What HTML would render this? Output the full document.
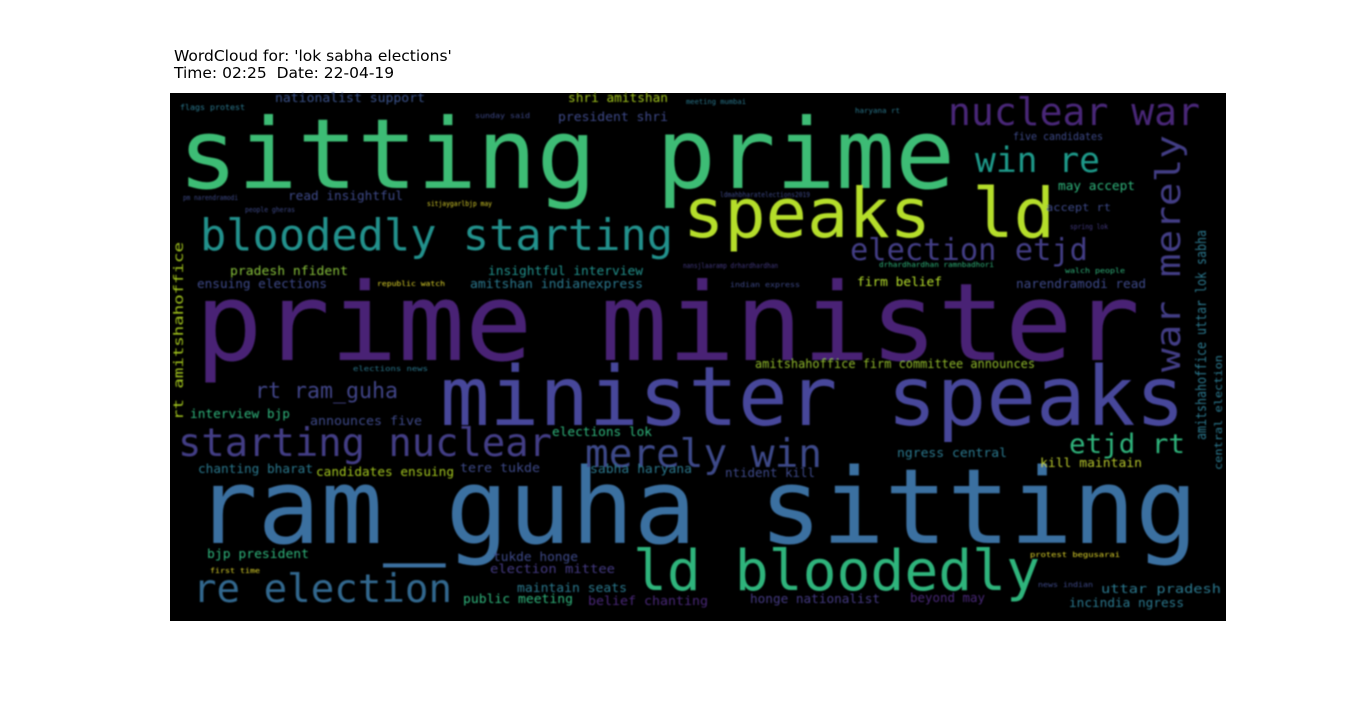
<!DOCTYPE html>
<html><head><meta charset="utf-8"><style>
html,body{margin:0;padding:0;background:#fff;width:1362px;height:707px;overflow:hidden}
svg{display:block}
.w{font-family:"DejaVu Sans Mono","Liberation Mono",monospace}
</style></head><body>
<svg id="c" width="1362" height="707">
<defs><filter id="bl"><feGaussianBlur stdDeviation="0.7"/></filter></defs>
<text x="174" y="61" font-family="DejaVu Sans, Liberation Sans, sans-serif" font-size="15.5" fill="#000">WordCloud for: 'lok sabha elections'</text>
<text x="174" y="78" font-family="DejaVu Sans, Liberation Sans, sans-serif" font-size="15.5" fill="#000" xml:space="preserve">Time: 02:25  Date: 22-04-19</text>
<rect x="170" y="93" width="1056" height="528" fill="#000"/>
<g id="words" filter="url(#bl)"></g>
</svg>
<script>
const words=["sitting prime","prime minister","ram_guha sitting","minister speaks","speaks ld","bloodedly starting","ld bloodedly","starting nuclear","merely win","re election","nuclear war","win re","election etjd","rt ram_guha","etjd rt","war merely","rt amitshahoffice","amitshahoffice uttar lok sabha","central election",
"nationalist support","flags protest","shri amitshan","president shri","sunday said","meeting mumbai","haryana rt","five candidates","may accept","accept rt","spring lok","pm narendramodi","read insightful","sitjaygarlbjp may","people gheras","ldmahbharatelections2019","pradesh nfident","insightful interview","ensuing elections","republic watch","amitshan indianexpress","nansjlaaramp drhardhardhan","drhardhardhan ramnbadhori","walch people","indian express","firm belief","narendramodi read","amitshahoffice firm committee announces","interview bjp","announces five","elections lok","chanting bharat","candidates ensuing","tere tukde","sabha haryana","ngress central","ntident kill","kill maintain","bjp president","tukde honge","election mittee","first time","maintain seats","public meeting","belief chanting","honge nationalist","beyond may","uttar pradesh","incindia ngress","protest begusarai","news indian","elections news"];
const xs=[178,195,195,440,683,200,633,178,585,193,948,975,850,255,1069,1180,183,1206,1222,
275,180,568,558,475,686,855,1013,1058,1046,1070,183,288,427,245,720,230,488,197,377,470,683,879,1065,730,857,1016,755,190,310,552,198,316,460,590,897,725,1040,207,493,490,210,517,463,588,750,910,1101,1069,1030,1038,353];
const ys=[188,360,543,425,237,250,590,456,467,602,125,172,260,398,453,372,420,440,470,
102,110,102,121,118,104,113,140,190,211,229,200,200,206,212,197,275,275,288,286,288,268,267,273,287,286,288,368,418,425,436,473,476,472,473,457,477,467,558,561,573,573,592,603,605,603,602,593,607,557,587,371];
const ws=[777,945,1003,745,372,473,407,374,237,259,252,125,238,143,116,237,178,210,115,
150,65,100,110,55,60,45,90,77,65,38,55,115,65,50,90,118,155,130,68,173,95,115,60,70,85,130,280,100,112,100,115,138,80,102,110,90,102,102,85,125,50,110,110,120,130,75,120,115,90,55,75];
const fs=[97,108,104,82,69,44,56,39,39,39,38,35,30,22,27,34,13,14,11,
12,8,12,12,7,7,7,11,12,11,7,7,12,7,7,7,12,12,12,7,12,7,7,7,7,12,12,12,12,12,12,12,12,12,12,12,12,12,12,12,12,7,12,12,12,12,12,12,12,7,7,7];
const cols=["#3dbc74","#482475","#3b6fa0","#46479a","#b5de2b","#21918c","#2fb47c","#433e85","#3e4a89","#31688e","#482878","#1f9a8a","#433e85","#414487","#2fb47c","#433e85","#a2c51e","#2a788e","#2a788e",
"#3b528b","#2a788e","#a2c51e","#3e4a89","#3e4a89","#2a788e","#2a788e","#3e4a89","#2fb47c","#3e4a89","#443a83","#3e4a89","#3e4a89","#d8cf2a","#3e4a89","#3e4a89","#86c03a","#21918c","#3e4a89","#e0d62b","#2a788e","#443a83","#2fb47c","#2fb47c","#3e4a89","#b5de2b","#3e4a89","#8fb82a","#2fb47c","#3e4a89","#2fb47c","#2a788e","#a2c51e","#3e4a89","#2a788e","#2a788e","#3e4a89","#b5c52b","#2fb47c","#3e4a89","#443a83","#e0d62b","#2a788e","#2fb47c","#482878","#443a83","#482878","#2a788e","#2a788e","#e0d62b","#3e4a89","#2a788e"];
const rots=[0,0,0,0,0,0,0,0,0,0,0,0,0,0,0,-90,-90,-90,-90];
const g=document.getElementById('words');
const NS="http://www.w3.org/2000/svg";
for(let i=0;i<words.length;i++){
  const t=document.createElementNS(NS,'text');
  t.setAttribute('class','w');
  t.setAttribute('x',xs[i]);t.setAttribute('y',ys[i]);
  t.setAttribute('font-size',fs[i]);t.setAttribute('fill',cols[i]);
  t.setAttribute('textLength',ws[i]);t.setAttribute('lengthAdjust','spacingAndGlyphs');
  if(rots[i])t.setAttribute('transform','rotate('+rots[i]+' '+xs[i]+' '+ys[i]+')');
  t.textContent=words[i];
  
  
  g.appendChild(t);
}
</script>
</body></html>
